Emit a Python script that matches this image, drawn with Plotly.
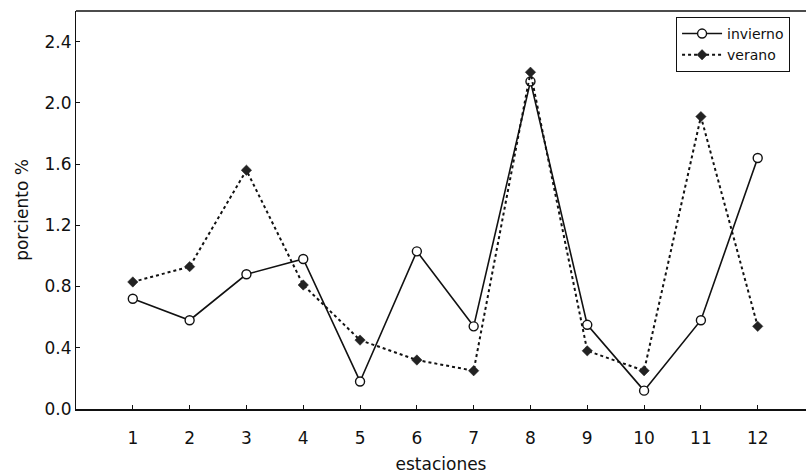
import plotly.graph_objects as go

estaciones = list(range(1, 13))
invierno = [0.72, 0.58, 0.88, 0.98, 0.18, 1.03, 0.54, 2.14, 0.55, 0.12, 0.58, 1.64]
verano = [0.83, 0.93, 1.56, 0.81, 0.45, 0.32, 0.25, 2.20, 0.38, 0.25, 1.91, 0.54]
y_ticks = [0.0, 0.4, 0.8, 1.2, 1.6, 2.0, 2.4]
y_ticktext = ["0.0", "0.4", "0.8", "1.2", "1.6", "2.0", "2.4"]

FONT = "DejaVu Sans, Liberation Sans, Arial, sans-serif"

fig = go.Figure()
fig.add_trace(go.Scatter(
    x=estaciones, y=invierno, name="invierno", mode="lines+markers",
    line=dict(color="#111111", width=1.6, dash="solid"),
    marker=dict(symbol="circle", size=9, color="white",
                line=dict(color="#111111", width=1.4)),
))
fig.add_trace(go.Scatter(
    x=estaciones, y=verano, name="verano", mode="lines+markers",
    line=dict(color="#111111", width=2, dash="dot"),
    marker=dict(symbol="diamond", size=8, color="#222222",
                line=dict(color="#222222", width=0.5)),
))

fig.update_layout(
    width=806, height=475,
    margin=dict(l=76, r=0, t=11, b=65.5),
    paper_bgcolor="white", plot_bgcolor="white",
    font=dict(family=FONT, size=17, color="#111111"),
    showlegend=True,
    legend=dict(
        x=0.822, y=0.985, xanchor="left", yanchor="top",
        bgcolor="white", bordercolor="#111111", borderwidth=1,
        font=dict(family=FONT, size=14, color="#111111"),
        itemwidth=40, tracegroupgap=0,
    ),
    xaxis=dict(
        range=[0, 12.85], tickmode="array", tickvals=estaciones,
        ticktext=[str(v) for v in estaciones],
        showline=True, linecolor="#111111", linewidth=1.5, mirror=False,
        ticks="inside", ticklen=4, tickcolor="#111111",
        showgrid=False, zeroline=False,
        ticklabelstandoff=13,
        title=dict(text="estaciones", standoff=11, font=dict(size=17)),
    ),
    yaxis=dict(
        range=[0, 2.6], tickmode="array", tickvals=y_ticks, ticktext=y_ticktext,
        showline=True, linecolor="#111111", linewidth=1.2, mirror=False,
        ticks="inside", ticklen=4, tickcolor="#111111",
        showgrid=False, zeroline=False,
        title=dict(text="porciento %", standoff=11, font=dict(size=17)),
    ),
    shapes=[dict(type="line", xref="paper", yref="paper", x0=0, x1=1, y0=1, y1=1,
                 line=dict(color="#111111", width=1.5))],
)

fig.write_html("out.html")
